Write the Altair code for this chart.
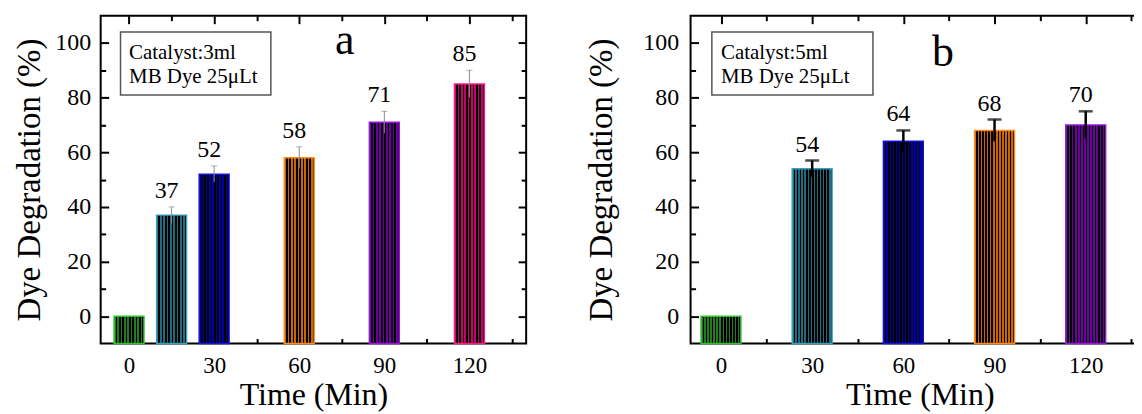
import altair as alt
import pandas as pd

FONT = "Liberation Serif"

# ---------------- data ----------------
a_time = [0, 15, 30, 60, 90, 120]
a_value = [0, 37, 52, 58, 71, 85]
a_err = [0, 3, 3, 4, 4, 5]
a_text = ["", "37", "52", "58", "71", "85"]

b_time = [0, 30, 60, 90, 120]
b_value = [0, 54, 64, 68, 70]
b_err = [0, 3, 4, 4, 5]
b_text = ["", "54", "64", "68", "70"]

y_major = [0, 20, 40, 60, 80, 100]
y_minor = [10, 30, 50, 70, 90]
x_major = [0, 30, 60, 90, 120]
x_minor = [15, 45, 75, 105, 135]

box_lines_a = ["Catalyst:3ml", "MB Dye 25\u03bcLt"]
box_lines_b = ["Catalyst:5ml", "MB Dye 25\u03bcLt"]

# ---------------- style ----------------
stripe_cols = ["#1e7e1e", "#1f6c82", "#0000a8", "#cc6400", "#6c009e", "#c8006c"]
edge_cols = ["#33c033", "#3aa0b8", "#1414d8", "#ff8c1a", "#9418d8", "#ff1a88"]
Y_DOMAIN = [-10, 110]
PLOT_H = 329


def stripes(color, n, frac=0.5):
    stops = []
    for i in range(n):
        a = i / n
        m = (i + frac) / n
        b = (i + 1) / n
        stops += [
            {"offset": a, "color": color},
            {"offset": m, "color": color},
            {"offset": m, "color": "#000000"},
            {"offset": b, "color": "#000000"},
        ]
    return {"gradient": "linear", "x1": 0, "y1": 0, "x2": 1, "y2": 0, "stops": stops}


def panel(times, values, errs, texts, fills, lines, xdom, width, bar_w, n_str,
          err_color, err_w, cap_w, box_lines, letter, letter_xy, tp, lp):
    df = pd.DataFrame({"time": times, "value": values, "err": errs, "text": texts})
    xs = alt.Scale(domain=xdom, nice=False, zero=False, padding=0)
    ys = alt.Scale(domain=Y_DOMAIN, nice=False, zero=False, padding=0)
    base = alt.Chart(df)

    def X(field="time:Q"):
        return alt.X(field, scale=xs, axis=None)

    def Y(field):
        return alt.Y(field, scale=ys, axis=None)

    layers = []
    for t, f, l in zip(times, fills, lines):
        layers.append(
            base.transform_filter(alt.datum.time == t)
            .mark_bar(size=bar_w, fill=stripes(f, n_str), stroke=l, strokeWidth=1.5)
            .encode(x=X(), y=Y("value:Q"), y2=alt.datum(Y_DOMAIN[0]))
        )

    eb = base.transform_filter(alt.datum.err > 0).transform_calculate(
        lo="datum.value - datum.err", hi="datum.value + datum.err"
    )
    rule = eb.mark_rule(color=err_color, strokeWidth=err_w).encode(
        x=X(), y=Y("lo:Q"), y2="hi:Q"
    )
    cap = eb.mark_tick(color=err_color, thickness=err_w, size=cap_w, orient="horizontal").encode(
        x=X(), y=Y("hi:Q")
    )
    lab = eb.mark_text(font=FONT, fontSize=24, dx=-5, dy=-9, baseline="alphabetic",
                       color="black").encode(x=X(), y=Y("hi:Q"), text="text:N")

    box_df = pd.DataFrame({"x": [-3], "x2": [50], "y": [81], "y2": [104]})
    box = alt.Chart(box_df).mark_rect(fillOpacity=0, fill="white", stroke="#555555",
                                      strokeWidth=1.5).encode(
        x=X("x:Q"), x2="x2:Q", y=Y("y:Q"), y2="y2:Q"
    )
    tdf = pd.DataFrame({"x": [0, 0], "y": [94, 85.2], "t": box_lines})
    btxt = alt.Chart(tdf).mark_text(font=FONT, fontSize=21, align="left",
                                    baseline="alphabetic", color="black").encode(
        x=X("x:Q"), y=Y("y:Q"), text="t:N"
    )
    ldf = pd.DataFrame({"x": [letter_xy[0]], "y": [letter_xy[1]], "t": [letter]})
    let = alt.Chart(ldf).mark_text(font=FONT, fontSize=44, baseline="alphabetic",
                                   color="black").encode(
        x=X("x:Q"), y=Y("y:Q"), text="t:N"
    )

    ax_main = base.mark_point(opacity=0).encode(
        x=alt.X("time:Q", scale=xs, axis=alt.Axis(
            orient="bottom", values=x_major, offset=-8, tickSize=8, labelPadding=11,
            titlePadding=2, labelFontSize=23, titleFontSize=32, format="d",
            title="Time (Min)")),
        y=alt.Y("value:Q", scale=ys, axis=alt.Axis(
            orient="left", values=y_major, offset=-8, tickSize=8, labelPadding=lp,
            titlePadding=tp, labelFontSize=24, titleFontSize=33, format="d",
            title="Dye Degradation (%)")),
    )
    ax_minor = base.mark_point(opacity=0).encode(
        x=alt.X("time:Q", scale=xs, axis=alt.Axis(
            orient="bottom", values=x_minor, offset=-5, tickSize=5, labels=False, title=None)),
        y=alt.Y("value:Q", scale=ys, axis=alt.Axis(
            orient="left", values=y_minor, offset=-5, tickSize=5, labels=False, title=None)),
    )
    ax_top = base.mark_point(opacity=0).encode(
        x=alt.X("time:Q", scale=xs, axis=alt.Axis(
            orient="top", values=x_major, offset=-8, tickSize=8, labels=False, title=None)),
        y=alt.Y("value:Q", scale=ys, axis=alt.Axis(
            orient="right", values=y_major, offset=-8, tickSize=8, labels=False, title=None)),
    )
    ax_top_minor = base.mark_point(opacity=0).encode(
        x=alt.X("time:Q", scale=xs, axis=alt.Axis(
            orient="top", values=x_minor, offset=-5, tickSize=5, labels=False, title=None)),
        y=alt.Y("value:Q", scale=ys, axis=alt.Axis(
            orient="right", values=y_minor, offset=-5, tickSize=5, labels=False, title=None)),
    )

    return alt.layer(
        *layers, rule, cap, lab, box, btxt, let, ax_main, ax_minor, ax_top, ax_top_minor
    ).resolve_axis(x="independent", y="independent").properties(width=width, height=PLOT_H)


pa = panel(a_time, a_value, a_err, a_text, stripe_cols, edge_cols, [-10, 140], 427, 30, 9,
           "#8c8c8c", 1, 6, box_lines_a, "a", (76, 96), 8, 10)
pb = panel(b_time, b_value, b_err, b_text, stripe_cols[:5], edge_cols[:5], [-10, 140.8], 460, 40, 13,
           "#000000", 2.5, 14, box_lines_b, "b", (73, 91.6), 24, 12)

chart = (
    alt.hconcat(pa, pb, spacing=57)
    .configure_view(stroke="black", strokeWidth=2)
    .configure_axis(domain=False, grid=False, tickColor="black", tickWidth=2,
                    labelFont=FONT, titleFont=FONT, labelColor="black",
                    titleColor="black", titleFontWeight="normal")
    .properties(padding={"left": 5, "top": 5, "right": -17, "bottom": 0}, background="white")
)

chart.save("out.html", embed_options={"renderer": "svg", "actions": False})
